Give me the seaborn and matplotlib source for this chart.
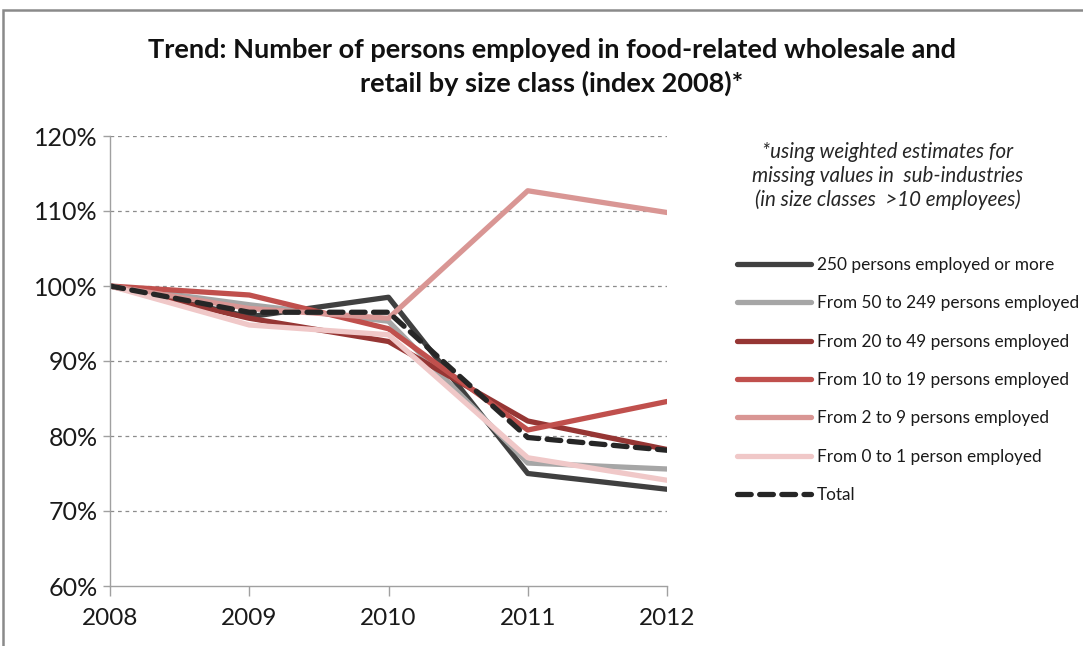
import matplotlib
matplotlib.use("Agg")
import matplotlib.pyplot as plt
from matplotlib.patches import Rectangle
from matplotlib.ticker import PercentFormatter
import pandas as pd
import seaborn as sns

# Index of persons employed (2008 = 100 %)
years = [2008, 2009, 2010, 2011, 2012]
series_names = [
    "250 persons employed or more",
    "From 50 to 249 persons employed",
    "From 20 to 49 persons employed",
    "From 10 to 19 persons employed",
    "From 2 to 9 persons employed",
    "From 0 to 1 person employed",
    "Total",
]
size_250_plus = [100.0, 95.9, 98.5, 75.0, 72.9]
size_50_249 = [100.0, 97.5, 95.3, 76.4, 75.6]
size_20_49 = [100.0, 95.7, 92.6, 82.0, 78.2]
size_10_19 = [100.0, 98.8, 94.3, 80.8, 84.6]
size_2_9 = [100.0, 97.0, 95.7, 112.7, 109.8]
size_0_1 = [100.0, 94.8, 93.5, 77.1, 74.1]
total = [100.0, 96.5, 96.5, 79.8, 78.1]

values = [size_250_plus, size_50_249, size_20_49, size_10_19, size_2_9, size_0_1, total]
colors = ["#404040", "#a6a6a6", "#963634", "#c0504d", "#d99694", "#f0c8c8", "#262626"]

df = pd.DataFrame(
    [(name, y, v) for name, vals in zip(series_names, values) for y, v in zip(years, vals)],
    columns=["series", "year", "value"],
)

sns.set_theme(style="white")
plt.rcParams["font.family"] = ["Lato", "DejaVu Sans"]

fig = plt.figure(figsize=(10.83, 6.46), dpi=100)
ax = fig.add_axes([110 / 1083, 1 - 586 / 646, 557 / 1083, 450 / 646])

palette = dict(zip(series_names, colors))
dashes = {name: "" for name in series_names}
dashes["Total"] = (2.6, 1.6)

sns.lineplot(
    data=df, x="year", y="value", hue="series", style="series",
    hue_order=series_names, style_order=series_names,
    palette=palette, dashes=dashes, linewidth=3.8, ax=ax, legend=True,
)
for ln in ax.get_lines():
    ln.set_solid_capstyle("round")
    ln.set_dash_capstyle("round")

ax.set_xlim(2008, 2012)
ax.set_ylim(60, 120)
ax.set_xticks(years)
ax.set_xticklabels([str(y) for y in years])
ax.set_yticks(range(60, 121, 10))
ax.yaxis.set_major_formatter(PercentFormatter(decimals=0))
ax.set_xlabel("")
ax.set_ylabel("")

for yv in range(70, 121, 10):
    ax.axhline(yv, color="#8c8c8c", lw=0.9, ls=(0, (3, 3)), zorder=0)

for side in ["top", "right"]:
    ax.spines[side].set_visible(False)
for side in ["left", "bottom"]:
    ax.spines[side].set_color("#a0a0a0")
    ax.spines[side].set_linewidth(1.0)

ax.tick_params(axis="x", direction="out", length=7, width=1, color="#a0a0a0",
               labelsize=17.5, labelcolor="#1a1a1a", pad=9, bottom=True)
ax.tick_params(axis="y", direction="out", length=5, width=1, color="#a0a0a0",
               labelsize=18, labelcolor="#1a1a1a", pad=4, left=True)

handles, labels = ax.get_legend_handles_labels()
ax.legend_.remove()
leg = fig.legend(
    handles, labels, loc="upper left", bbox_to_anchor=(730 / 1083, 1 - 250 / 646),
    frameon=False, fontsize=12.4, handlelength=4.3, handletextpad=0.35,
    labelspacing=1.3, borderaxespad=0,
)
for t in leg.get_texts():
    t.set_color("#1a1a1a")
for h in leg.get_lines():
    h.set_linewidth(3.8)
    h.set_solid_capstyle("round")
    h.set_dash_capstyle("round")

fig.text(552 / 1083, 1 - 67 / 646,
         "Trend: Number of persons employed in food-related wholesale and\n"
         "retail by size class (index 2008)*",
         ha="center", va="center", fontsize=19.5, fontweight="bold",
         color="#111111", linespacing=1.38)

fig.text(888 / 1083, 1 - 176 / 646,
         "*using weighted estimates for\n"
         "missing values in  sub-industries\n"
         "(in size classes  >10 employees)",
         ha="center", va="center", fontsize=14.8, style="italic",
         color="#262626", linespacing=1.2)

fig.patches.append(Rectangle((3 / 1083, -0.05), 1.2, 1 - 10 / 646 + 0.05,
                             transform=fig.transFigure, fill=False,
                             edgecolor="#8a8a8a", lw=1.8))

fig.savefig("out.png", dpi=100)
